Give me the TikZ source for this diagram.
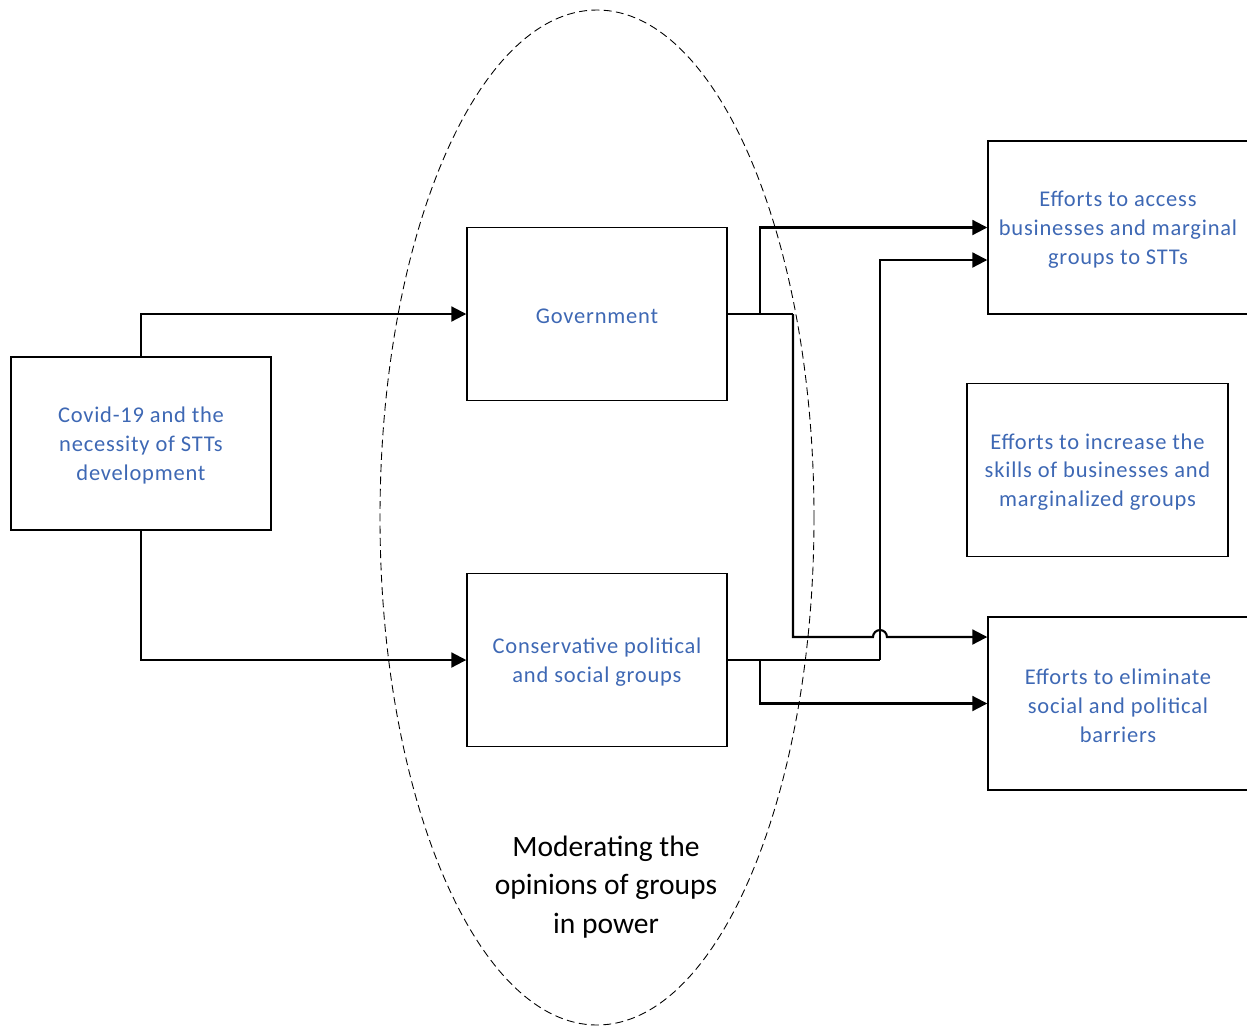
\documentclass[tikz,border=0pt]{standalone}
\usepackage{fontspec}
\setmainfont{Carlito}
\usetikzlibrary{arrows.meta,calc}
\definecolor{txtblue}{RGB}{62,104,180}
\begin{document}
\begin{tikzpicture}[x=0.02cm,y=-0.02cm,
  box/.style={draw,line width=0.85pt,minimum width=5.2cm,minimum height=3.46cm,inner sep=0pt},
  boxtext/.style={align=center,text=txtblue,inner sep=0pt,yshift=-1.2pt,
    font=\fontsize{12.8pt}{16.4pt}\selectfont\addfontfeatures{LetterSpace=3.5}},
  conn/.style={line width=1.2pt,-{Triangle[length=8.5pt,width=8.5pt]}},
  link/.style={line width=1.2pt}]
\useasboundingbox (0,0) rectangle (1247,1025);

% dashed ellipse for the moderating groups
\draw[dash pattern=on 4.5pt off 2.5pt,line width=0.5pt] (597,517.5) ellipse [x radius=217,y radius=507.5];
\node[align=center,font=\fontsize{16.8pt}{22pt}\selectfont] (mod) at (606,887)
  {Moderating the\\opinions of groups\\in power};

% boxes
\node[box] (cov) at (141,443.5) {};
\node[box] (gov) at (597,314) {};
\node[box] (con) at (597,660) {};
\node[box] (acc) at (1118,227.5) {};
\node[box,minimum width=5.22cm] (skl) at (1097.5,470) {};
\node[box] (eli) at (1118,703.5) {};

% box captions
\node[boxtext] (covt) at (cov) {Covid-19 and the\\necessity of STTs\\development};
\node[boxtext] (govt) at (gov) {Government};
\node[boxtext] (cont) at (con) {Conservative political\\and social groups};
\node[boxtext] (acct) at (acc) {Efforts to access\\businesses and marginal\\groups to STTs};
\node[boxtext] (sklt) at (skl) {Efforts to increase the\\skills of businesses and\\marginalized groups};
\node[boxtext] (elit) at (eli) {Efforts to eliminate\\social and political\\barriers};

% bend points
\coordinate (ga) at (760,314);
\coordinate (gb) at (793,314);
\coordinate (ca) at (880,660);
\coordinate (cb) at (760,660);
\coordinate (acc2) at ($(acc.west)+(0,32.5)$);
\coordinate (eli2) at ($(eli.west)+(0,-66.5)$);
\coordinate (hopL) at (873,637);

% from the source box
\draw[conn] (cov.north) |- (gov.west);
\draw[conn] (cov.south) |- (con.west);

% from government
\draw[link] (gov.east) -- (gb);
\draw[conn] (ga) |- (acc.west);
\draw[conn] (gb) |- (hopL) arc[start angle=180,end angle=0,radius=3.97pt] -- (eli2);

% from conservative groups
\draw[link] (con.east) -- (ca);
\draw[conn] (ca) |- (acc2);
\draw[conn] (cb) |- (eli.west);
\end{tikzpicture}
\end{document}
